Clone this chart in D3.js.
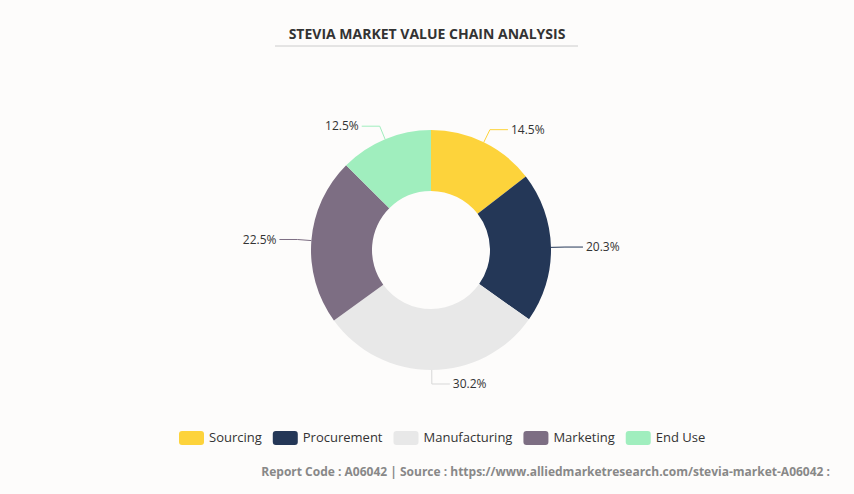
<!DOCTYPE html>
<html><head><meta charset="utf-8">
<script src="https://cdn.jsdelivr.net/npm/d3@7"></script>
<style>body{margin:0;background:#fdfcfb;font-family:"Open Sans",Arial,sans-serif}</style>
</head><body><svg id="c" width="854" height="494"></svg>
<script>
const categories=["Sourcing","Procurement","Manufacturing","Marketing","End Use"];
const values=[14.5,20.3,30.2,22.5,12.5];
const colors=["#fdd33b","#243757","#e8e8e8","#7d6e83","#a0eebe"];
const svg=d3.select("#c");
svg.append("rect").attr("width",854).attr("height",494).attr("fill","#fdfcfb");
svg.append("text").attr("x",427).attr("y",39).attr("text-anchor","middle").attr("font-size",14).attr("font-weight","bold").attr("fill","#333").text("STEVIA MARKET VALUE CHAIN ANALYSIS");
svg.append("line").attr("x1",275).attr("x2",578).attr("y1",46).attr("y2",46).attr("stroke","#ccc");
const cx=431,cy=250,R=120,r=59;
const pie=d3.pie().sort(null)(values);
const arc=d3.arc().innerRadius(r).outerRadius(R);
const g=svg.append("g").attr("transform",`translate(${cx},${cy})`);
g.selectAll("path").data(pie).join("path").attr("d",arc).attr("fill",(d,i)=>colors[i]);
pie.forEach((d,i)=>{
  const a=(d.startAngle+d.endAngle)/2;
  const p0=[Math.sin(a)*R,-Math.cos(a)*R];
  const p1=[Math.sin(a)*(R+14),-Math.cos(a)*(R+14)];
  const right=Math.sin(a)>=0;
  const p2=[p1[0]+(right?18:-18),p1[1]];
  g.append("polyline").attr("points",[p0,p1,p2].map(p=>p.join(",")).join(" ")).attr("fill","none").attr("stroke",colors[i]==="#e8e8e8"?"#d8d8d8":colors[i]);
  g.append("text").attr("x",p2[0]+(right?3:-3)).attr("y",p2[1]+4).attr("text-anchor",right?"start":"end").attr("font-size",12).attr("fill","#333").text(values[i].toFixed(1)+"%");
});
// legend
const lg=svg.append("g");
let x=179;
categories.forEach((c,i)=>{
  lg.append("rect").attr("x",x).attr("y",431).attr("width",25).attr("height",14).attr("rx",3).attr("fill",colors[i]);
  const t=lg.append("text").attr("x",x+30).attr("y",442).attr("font-size",13).attr("fill","#333").text(c);
  x+=30+t.node().getComputedTextLength()+11;
});
svg.append("text").attr("x",830).attr("y",476).attr("text-anchor","end").attr("font-size",12).attr("font-weight","bold").attr("fill","#888").text("Report Code : A06042  |  Source : https://www.alliedmarketresearch.com/stevia-market-A06042 :");
</script></body></html>
